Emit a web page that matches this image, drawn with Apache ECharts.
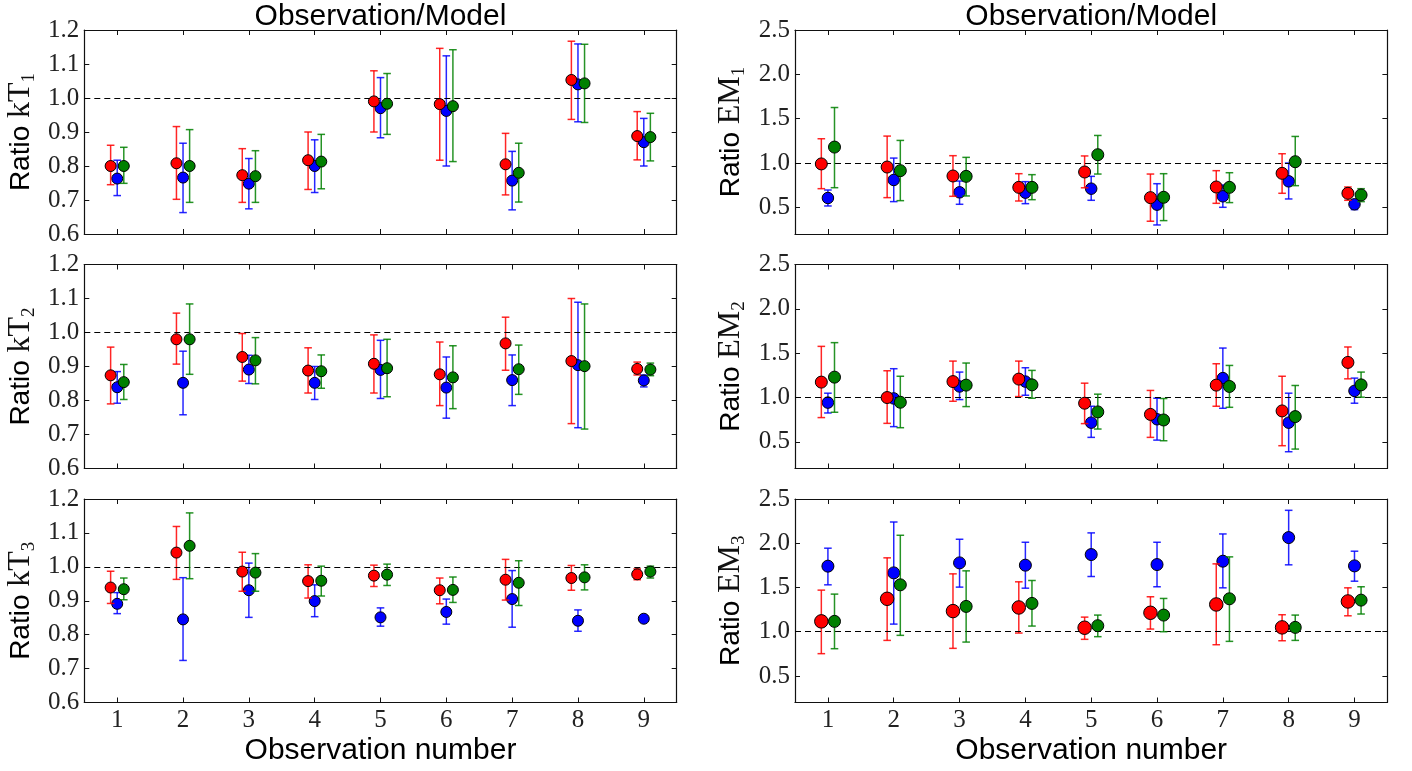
<!DOCTYPE html>
<html><head><meta charset="utf-8">
<script src="https://cdn.jsdelivr.net/npm/echarts@6/dist/echarts.min.js"></script>
<style>html,body{margin:0;padding:0;background:#fff}#c{width:1412px;height:771px}</style>
</head><body><div id="c"></div>
<script>
// ---------- data ----------
const obs = [1,2,3,4,5,6,7,8,9];
const kTTicks = [0.6,0.7,0.8,0.9,1.0,1.1,1.2];
const emTicks = [0.5,1.0,1.5,2.0,2.5];

// kT1
const kT1_red    = [0.800,0.808,0.773,0.817,0.990,0.982,0.805,1.053,0.888];
const kT1_red_lo = [0.745,0.702,0.693,0.731,0.900,0.817,0.715,0.937,0.818];
const kT1_red_hi = [0.861,0.916,0.851,0.900,1.080,1.146,0.896,1.167,0.960];
const kT1_blue    = [0.763,0.766,0.748,0.800,0.970,0.962,0.757,1.040,0.870];
const kT1_blue_lo = [0.713,0.663,0.674,0.722,0.883,0.800,0.671,0.930,0.800];
const kT1_blue_hi = [0.817,0.867,0.822,0.877,1.060,1.124,0.843,1.159,0.940];
const kT1_green    = [0.800,0.800,0.770,0.813,0.983,0.976,0.780,1.043,0.885];
const kT1_green_lo = [0.749,0.693,0.693,0.733,0.893,0.813,0.694,0.928,0.815];
const kT1_green_hi = [0.855,0.907,0.845,0.893,1.072,1.142,0.867,1.158,0.955];

// kT2
const kT2_red    = [0.874,0.980,0.928,0.888,0.908,0.877,0.968,0.916,0.893];
const kT2_red_lo = [0.790,0.907,0.857,0.822,0.822,0.785,0.889,0.732,0.875];
const kT2_red_hi = [0.957,1.057,0.997,0.955,0.993,0.972,1.045,1.100,0.913];
const kT2_blue    = [0.839,0.852,0.891,0.852,0.890,0.838,0.860,0.904,0.859];
const kT2_blue_lo = [0.792,0.758,0.850,0.803,0.806,0.748,0.785,0.720,0.840];
const kT2_blue_hi = [0.885,0.945,0.933,0.900,0.977,0.928,0.934,1.089,0.875];
const kT2_green    = [0.854,0.980,0.918,0.886,0.895,0.868,0.892,0.901,0.891];
const kT2_green_lo = [0.803,0.877,0.849,0.836,0.811,0.776,0.818,0.716,0.873];
const kT2_green_hi = [0.906,1.084,0.985,0.934,0.980,0.961,0.963,1.084,0.910];

// kT3
const kT3_red    = [0.939,1.042,0.986,0.958,0.974,0.931,0.962,0.967,0.978];
const kT3_red_lo = [0.892,0.963,0.928,0.908,0.942,0.891,0.902,0.931,0.962];
const kT3_red_hi = [0.987,1.119,1.043,1.006,1.005,0.967,1.022,1.004,0.994];
const kT3_blue    = [0.891,0.845,0.931,0.899,0.851,0.867,0.905,0.841,0.847];
const kT3_blue_lo = [0.862,0.724,0.851,0.853,0.825,0.831,0.822,0.810,0.843];
const kT3_blue_hi = [0.924,0.968,1.011,0.947,0.879,0.905,0.989,0.873,0.851];
const kT3_green    = [0.934,1.062,0.983,0.959,0.977,0.932,0.953,0.969,0.986];
const kT3_green_lo = [0.903,0.965,0.928,0.914,0.945,0.895,0.886,0.932,0.967];
const kT3_green_hi = [0.967,1.159,1.039,1.002,1.008,0.970,1.018,1.006,1.002];

// EM1
const EM1_red    = [0.990,0.955,0.854,0.726,0.899,0.610,0.730,0.884,0.659];
const EM1_red_lo = [0.711,0.610,0.625,0.572,0.721,0.344,0.546,0.659,0.580];
const EM1_red_hi = [1.274,1.304,1.083,0.880,1.080,0.876,0.914,1.105,0.730];
const EM1_blue    = [0.606,0.809,0.670,0.666,0.711,0.531,0.625,0.794,0.535];
const EM1_blue_lo = [0.516,0.565,0.535,0.542,0.580,0.302,0.501,0.595,0.475];
const EM1_blue_hi = [0.696,1.056,0.797,0.790,0.850,0.767,0.752,1.000,0.585];
const EM1_green    = [1.180,0.914,0.850,0.726,1.094,0.614,0.726,1.015,0.640];
const EM1_green_lo = [0.722,0.576,0.629,0.587,0.876,0.351,0.554,0.745,0.565];
const EM1_green_hi = [1.626,1.255,1.064,0.869,1.311,0.880,0.891,1.300,0.711];

// EM2
const EM2_red    = [1.174,1.000,1.180,1.208,0.936,0.810,1.140,0.849,1.396];
const EM2_red_lo = [0.774,0.709,0.958,1.011,0.706,0.551,0.902,0.457,1.211];
const EM2_red_hi = [1.577,1.302,1.411,1.411,1.162,1.080,1.381,1.240,1.570];
const EM2_blue    = [0.943,0.990,1.125,1.180,0.717,0.755,1.219,0.717,1.075];
const EM2_blue_lo = [0.826,0.672,0.977,1.026,0.551,0.520,0.879,0.389,0.936];
const EM2_blue_hi = [1.049,1.325,1.287,1.336,0.902,0.992,1.558,1.049,1.219];
const EM2_green    = [1.230,0.947,1.140,1.143,0.838,0.747,1.125,0.785,1.143];
const EM2_green_lo = [0.834,0.660,0.898,0.992,0.645,0.513,0.890,0.419,1.004];
const EM2_green_hi = [1.619,1.240,1.389,1.306,1.038,0.989,1.362,1.136,1.287];

// EM3
const EM3_red    = [1.117,1.372,1.233,1.274,1.045,1.214,1.308,1.049,1.342];
const EM3_red_lo = [0.752,0.902,0.812,0.985,0.914,1.030,0.853,0.898,1.180];
const EM3_red_hi = [1.470,1.835,1.654,1.564,1.165,1.395,1.767,1.192,1.496];
const EM3_blue    = [1.741,1.665,1.778,1.752,1.872,1.759,1.797,2.064,1.744];
const EM3_blue_lo = [1.530,1.086,1.504,1.492,1.624,1.508,1.496,1.756,1.571];
const EM3_blue_hi = [1.944,2.240,2.045,2.011,2.117,2.011,2.105,2.372,1.910];
const EM3_green    = [1.117,1.530,1.286,1.320,1.068,1.188,1.372,1.049,1.357];
const EM3_green_lo = [0.808,0.959,0.883,1.064,0.944,1.000,0.891,0.902,1.200];
const EM3_green_hi = [1.425,2.090,1.688,1.579,1.188,1.376,1.846,1.188,1.508];

// ---------- layout / style ----------
const colors  = {red:'#ff0000', blue:'#0000ff', green:'#008000'};
const offsets = {red:-0.1, blue:0, green:0.1};
const colLeft = [84.3, 795];
const colW = 592.4;
const rowTop = [30, 264.5, 499];
const rowH = [204, 204, 203.5];

const panels = [
  {col:0,row:0,lab:'kT',sub:'1',min:0.6,max:1.2,ticks:kTTicks,size:{red:11,blue:11,green:11},
   d:{red:[kT1_red,kT1_red_lo,kT1_red_hi],blue:[kT1_blue,kT1_blue_lo,kT1_blue_hi],green:[kT1_green,kT1_green_lo,kT1_green_hi]}},
  {col:0,row:1,lab:'kT',sub:'2',min:0.6,max:1.2,ticks:kTTicks,size:{red:11,blue:11,green:11},
   d:{red:[kT2_red,kT2_red_lo,kT2_red_hi],blue:[kT2_blue,kT2_blue_lo,kT2_blue_hi],green:[kT2_green,kT2_green_lo,kT2_green_hi]}},
  {col:0,row:2,lab:'kT',sub:'3',min:0.6,max:1.2,ticks:kTTicks,size:{red:11,blue:11,green:11},
   d:{red:[kT3_red,kT3_red_lo,kT3_red_hi],blue:[kT3_blue,kT3_blue_lo,kT3_blue_hi],green:[kT3_green,kT3_green_lo,kT3_green_hi]}},
  {col:1,row:0,lab:'EM',sub:'1',min:0.2,max:2.5,ticks:emTicks,size:{red:12,blue:11.5,green:12},
   d:{red:[EM1_red,EM1_red_lo,EM1_red_hi],blue:[EM1_blue,EM1_blue_lo,EM1_blue_hi],green:[EM1_green,EM1_green_lo,EM1_green_hi]}},
  {col:1,row:1,lab:'EM',sub:'2',min:0.2,max:2.5,ticks:emTicks,size:{red:12,blue:11.5,green:12},
   d:{red:[EM2_red,EM2_red_lo,EM2_red_hi],blue:[EM2_blue,EM2_blue_lo,EM2_blue_hi],green:[EM2_green,EM2_green_lo,EM2_green_hi]}},
  {col:1,row:2,lab:'EM',sub:'3',min:0.2,max:2.5,ticks:emTicks,size:{red:13.5,blue:12,green:12},
   d:{red:[EM3_red,EM3_red_lo,EM3_red_hi],blue:[EM3_blue,EM3_blue_lo,EM3_blue_hi],green:[EM3_green,EM3_green_lo,EM3_green_hi]}}
];

const serif = "'Liberation Serif', 'DejaVu Serif', serif";
const sans = "'Liberation Sans', Arial, sans-serif";
const frameColor = '#111';

const grids = [], xAxes = [], yAxes = [], series = [], graphics = [];

panels.forEach((p, g) => {
  const isBottom = p.row === 2;
  grids.push({left: colLeft[p.col], top: rowTop[p.row], width: colW, height: rowH[p.row], containLabel:false});
  const tickStyle = {show:true, inside:true, length:5, customValues: obs, lineStyle:{color:frameColor, width:1}};
  xAxes.push({gridIndex:g, type:'value', min:0.5, max:9.5, position:'bottom',
    axisLine:{show:true, onZero:false, lineStyle:{color:frameColor, width:1.2}},
    axisTick:tickStyle,
    axisLabel:{show:isBottom, customValues: obs, fontFamily:serif, fontSize:25, color:'#222', margin:5},
    splitLine:{show:false}});
  xAxes.push({gridIndex:g, type:'value', min:0.5, max:9.5, position:'top',
    axisLine:{show:true, onZero:false, lineStyle:{color:frameColor, width:1.2}},
    axisTick:tickStyle, axisLabel:{show:false}, splitLine:{show:false}});
  const yTick = {show:true, inside:true, length:5, customValues: p.ticks, lineStyle:{color:frameColor, width:1}};
  yAxes.push({gridIndex:g, type:'value', min:p.min, max:p.max, position:'left',
    axisLine:{show:true, onZero:false, lineStyle:{color:frameColor, width:1.2}},
    axisTick:yTick,
    axisLabel:{show:true, customValues: p.ticks, formatter: v => Number(v).toFixed(1),
      fontFamily:serif, fontSize:25, color:'#222', margin:5},
    splitLine:{show:false}});
  yAxes.push({gridIndex:g, type:'value', min:p.min, max:p.max, position:'right',
    axisLine:{show:true, onZero:false, lineStyle:{color:frameColor, width:1.2}},
    axisTick:yTick, axisLabel:{show:false}, splitLine:{show:false}});

  ['blue','red','green'].forEach((c, k) => {
    const [v, lo, hi] = p.d[c];
    const off = offsets[c];
    const col = colors[c];
    series.push({
      type:'custom', xAxisIndex:2*g, yAxisIndex:2*g, z:2+2*k, silent:true,
      data: obs.map((o,i) => [o + off, lo[i], hi[i]]),
      encode:{x:0, y:[1,2]},
      renderItem: (params, api) => {
        const t = api.coord([api.value(0), api.value(2)]);
        const b = api.coord([api.value(0), api.value(1)]);
        const st = {stroke:col, lineWidth:1.5, opacity:0.85};
        const cw = 3.8;
        return {type:'group', children:[
          {type:'line', shape:{x1:t[0], y1:t[1], x2:b[0], y2:b[1]}, style:st},
          {type:'line', shape:{x1:t[0]-cw, y1:t[1], x2:t[0]+cw, y2:t[1]}, style:st},
          {type:'line', shape:{x1:b[0]-cw, y1:b[1], x2:b[0]+cw, y2:b[1]}, style:st}
        ]};
      }
    });
    const sc = {
      type:'scatter', xAxisIndex:2*g, yAxisIndex:2*g, z:3+2*k, silent:true,
      symbol:'circle', symbolSize:p.size[c],
      data: obs.map((o,i) => [o + off, v[i]]),
      itemStyle:{color:col, borderColor:'#000', borderWidth:1, opacity:1}
    };
    if (k === 0) {
      sc.markLine = {silent:true, symbol:'none', label:{show:false}, animation:false,
        lineStyle:{type:[6,4], color:'#000', width:1.2}, data:[{yAxis:1}]};
    }
    series.push(sc);
  });

  // y-axis label
  const cx = p.col === 0 ? 21 : 731;
  const cy = rowTop[p.row] + rowH[p.row] / 2;
  graphics.push({type:'text', x:cx, y:cy, rotation:Math.PI/2, silent:true,
    style:{text:'{a|Ratio} {b|' + p.lab + '}{c|' + p.sub + '}',
      fontFamily:sans, fontSize:28, fill:'#000', align:'center', verticalAlign:'middle',
      rich:{
        a:{fontFamily:sans, fontSize:28, lineHeight:36, fill:'#000'},
        b:{fontFamily:serif, fontSize:32, lineHeight:36, fill:'#111'},
        c:{fontFamily:serif, fontSize:19, lineHeight:24, verticalAlign:'bottom', fill:'#111'}
      }}});
  if (isBottom) {
    graphics.push({type:'text', x: colLeft[p.col] + colW/2, y: 751, silent:true,
      style:{text:'Observation number', fontFamily:sans, fontSize:30, fill:'#000', align:'center', verticalAlign:'middle'}});
  }
  if (p.row === 0) {
    graphics.push({type:'text', x: colLeft[p.col] + colW/2, y: 17, silent:true,
      style:{text:'Observation/Model', fontFamily:sans, fontSize:30, fill:'#000', align:'center', verticalAlign:'middle'}});
  }
});

const chart = echarts.init(document.getElementById('c'), null, {renderer:'canvas'});
chart.setOption({
  backgroundColor:'#fff',
  animation:false,
  grid: grids,
  xAxis: xAxes,
  yAxis: yAxes,
  series: series,
  graphic: graphics
});
</script>
</body></html>
